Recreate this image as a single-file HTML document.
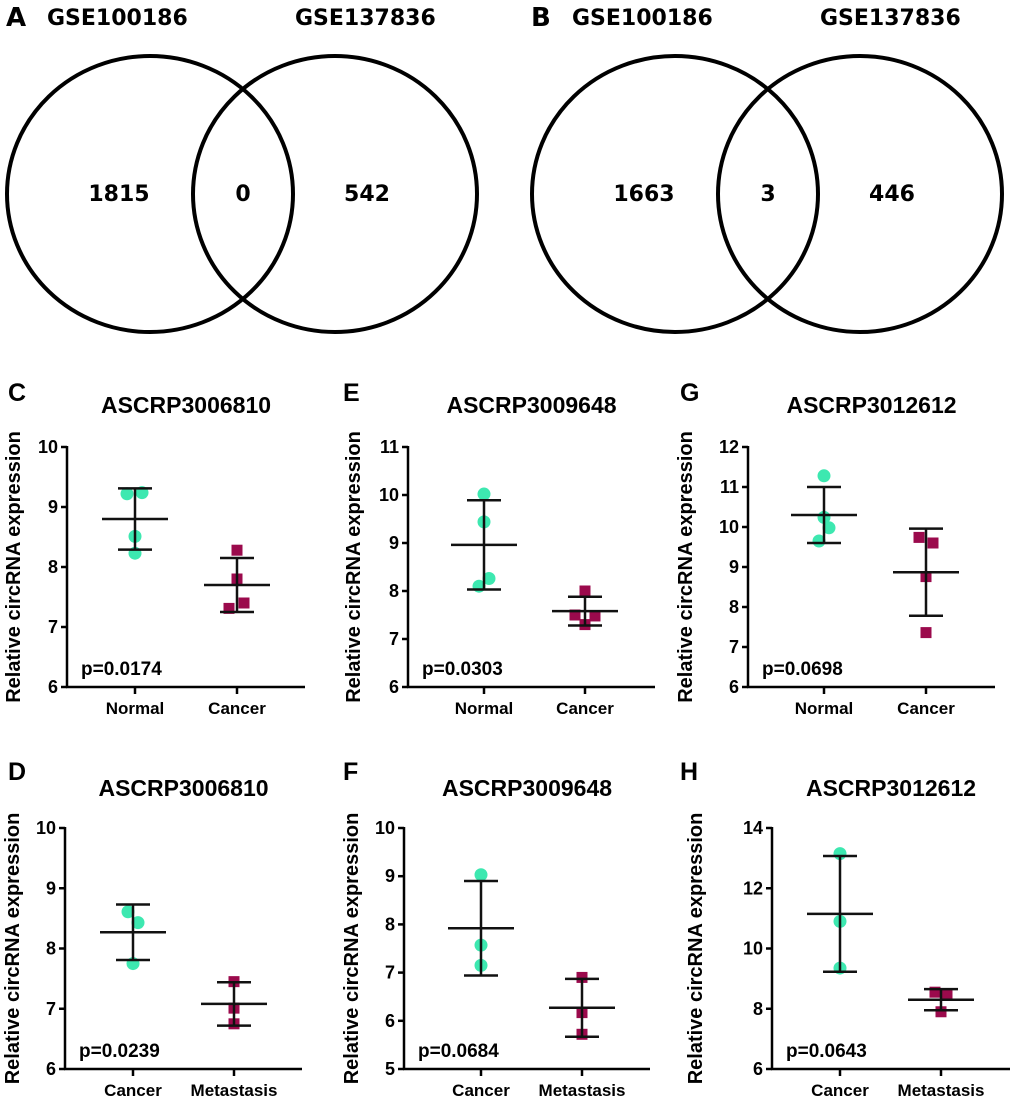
<!DOCTYPE html>
<html><head><meta charset="utf-8"><style>
body{margin:0;background:#fff}
svg{display:block;font-family:"Liberation Sans",Arial,sans-serif}
.v{font-family:"DejaVu Sans","Liberation Sans",sans-serif;font-weight:bold}
</style></head><body>
<svg id="fig" width="1020" height="1101" viewBox="0 0 1020 1101" xmlns="http://www.w3.org/2000/svg"></svg>
<script>
const NS="http://www.w3.org/2000/svg";
const svg=document.getElementById('fig');
function mk(tag,attrs,parent,text){const e=document.createElementNS(NS,tag);for(const k in attrs)e.setAttribute(k,attrs[k]);if(text!==undefined)e.textContent=text;(parent||svg).appendChild(e);return e;}

// Venn data
const vennLetters=["A","B"];
const vennLeft=[1815,1663];
const vennMid=[0,3];
const vennRight=[542,446];
const vennSetNames=["GSE100186","GSE137836"];

// Scatter panel data
const panelLetters=["C","E","G","D","F","H"];
const panelTitles=["ASCRP3006810","ASCRP3009648","ASCRP3012612","ASCRP3006810","ASCRP3009648","ASCRP3012612"];
const groupNames=[["Normal","Cancer"],["Normal","Cancer"],["Normal","Cancer"],["Cancer","Metastasis"],["Cancer","Metastasis"],["Cancer","Metastasis"]];
const pValues=["p=0.0174","p=0.0303","p=0.0698","p=0.0239","p=0.0684","p=0.0643"];
const yMin=[6,6,6,6,5,6];
const yMax=[10,11,12,10,10,14];
const yStep=[1,1,1,1,1,2];
const group1Values=[[9.22,9.24,8.51,8.23],[10.02,9.44,8.26,8.1],[11.28,10.24,9.98,9.65],[8.61,8.43,7.75],[9.03,7.57,7.15],[13.15,10.9,9.35]];
const group2Values=[[8.28,7.8,7.4,7.31],[8.0,7.5,7.48,7.3],[9.74,9.6,8.76,7.36],[7.45,7.01,6.75],[6.9,6.17,5.72],[8.55,8.45,7.9]];
const group1Mean=[8.8,8.96,10.3,8.27,7.92,11.15];
const group1Err=[0.51,0.93,0.7,0.46,0.98,1.92];
const group2Mean=[7.7,7.58,8.87,7.08,6.27,8.3];
const group2Err=[0.45,0.3,1.09,0.36,0.6,0.35];

// Venn diagrams
const vennOffsets=[0,525];
vennLetters.forEach((L,i)=>{
  const ox=vennOffsets[i];
  const g=mk('g',{},svg);
  
  
  const t=mk('text',{x:ox+6,y:26,'font-size':26,'font-weight':'bold',class:'v'},g,L);
  
  
  const n1=mk('text',{x:ox+47,y:25,'font-size':22,class:'v'},g,vennSetNames[0]);
  
  
  const n2=mk('text',{x:ox+295,y:25,'font-size':22,class:'v'},g,vennSetNames[1]);
  
  
  const c1=mk('ellipse',{cx:ox+150,cy:194,rx:143,ry:138,fill:'none',stroke:'#000','stroke-width':4},g);
  
  
  const c2=mk('ellipse',{cx:ox+335,cy:194,rx:142,ry:138,fill:'none',stroke:'#000','stroke-width':4},g);
  
  
  [[vennLeft[i],119],[vennMid[i],243],[vennRight[i],367]].forEach((p,j)=>{
    const tt=mk('text',{x:ox+p[1],y:201,'font-size':22,'text-anchor':'middle',class:'v'},g,String(p[0]));
    
    
  });
});

// Panel geometry
const geo=[
 {ax:67,g1:135,g2:237,end:305,top:447,bot:687,py:0,lo:47},
 {ax:408,g1:484,g2:585,end:655,top:447,bot:687,py:0,lo:48},
 {ax:748,g1:824,g2:926,end:995,top:447,bot:687,py:0,lo:56},
 {ax:65,g1:133,g2:234,end:302,top:828,bot:1069,py:1,lo:46},
 {ax:404,g1:481,g2:582,end:650,top:828,bot:1069,py:1,lo:46},
 {ax:772,g1:840,g2:941,end:1010,top:828,bot:1069,py:1,lo:70}
];
const jit4a=[-8,7,0,0], jit4b=[0,0,7,-8];
const jit=[[jit4a,jit4b],[[0,0,5,-5],[0,-10,10,0]],[[0,0,5,-5],[-7,7,0,0]],[[-5,5,0],[0,0,0]],[[0,0,0],[0,0,0]],[[0,0,0],[-6,6,0]]];

panelLetters.forEach((L,i)=>{
  const G=geo[i];
  const g=mk('g',{},svg);
  
  
  const y=v=>G.bot-(v-yMin[i])/(yMax[i]-yMin[i])*(G.bot-G.top);
  const letterX=[8,343,680,8,343,680][i];
  const topY=G.py?767:388;
  const pl=mk('text',{x:letterX,y:topY+13,'font-size':25,'font-weight':'bold'},g,L);
  
  
  const ti=mk('text',{x:(G.ax+G.end)/2,y:G.py?796:413,'font-size':23,'font-weight':'bold','text-anchor':'middle'},g,panelTitles[i]);
  
  
  const yc=(G.top+G.bot)/2;
  const yl=mk('text',{x:0,y:0,'font-size':20,'font-weight':'bold','text-anchor':'middle',transform:`translate(${G.ax-G.lo},${yc}) rotate(-90)`},g,'Relative circRNA expression');
  
  
  const axy=mk('line',{x1:G.ax,y1:G.top-1,x2:G.ax,y2:G.bot+1,stroke:'#000','stroke-width':2.5},g);
  
  
  const axx=mk('line',{x1:G.ax-1,y1:G.bot,x2:G.end,y2:G.bot,stroke:'#000','stroke-width':2.5},g);
  
  
  for(let v=yMin[i];v<=yMax[i]+1e-9;v+=yStep[i]){
    const tk=mk('line',{x1:G.ax-6,y1:y(v),x2:G.ax,y2:y(v),stroke:'#000','stroke-width':2.5},g);
    
    
    const tl=mk('text',{x:G.ax-9,y:y(v)+6,'font-size':18,'font-weight':'bold','text-anchor':'end'},g,String(v));
    
    
  }
  [G.g1,G.g2].forEach((gx,k)=>{
    const tk=mk('line',{x1:gx,y1:G.bot,x2:gx,y2:G.bot+7,stroke:'#000','stroke-width':2.5},g);
    
    
    const tl=mk('text',{x:gx,y:G.bot+27,'font-size':17,'font-weight':'bold','text-anchor':'middle'},g,groupNames[i][k]);
    
    
  });
  const pv=mk('text',{x:G.ax+14,y:G.bot-12,'font-size':19,'font-weight':'bold'},g,pValues[i]);
  
  
  const groups=[[G.g1,group1Values[i],group1Mean[i],group1Err[i],'#3de8b0','circle'],[G.g2,group2Values[i],group2Mean[i],group2Err[i],'#9b0a4c','square']];
  groups.forEach((gr,k)=>{
    const [gx,vals,m,e,col,shape]=gr;
    vals.forEach((v,j)=>{
      const dx=(jit[i][k][j]||0);
      let pt;
      if(shape==='circle') pt=mk('circle',{cx:gx+dx,cy:y(v),r:6.5,fill:col},g);
      else pt=mk('rect',{x:gx+dx-5.5,y:y(v)-5.5,width:11,height:11,fill:col},g);
      
      
    });
    const ev=mk('line',{x1:gx,y1:y(m+e),x2:gx,y2:y(m-e),stroke:'#111','stroke-width':2.5},g);
    
    
    [m+e,m-e].forEach(v=>{
      const cp=mk('line',{x1:gx-17,y1:y(v),x2:gx+17,y2:y(v),stroke:'#111','stroke-width':2.5},g);
      
      
    });
    const ml=mk('line',{x1:gx-33,y1:y(m),x2:gx+33,y2:y(m),stroke:'#111','stroke-width':2.5},g);
    
    
  });
});
</script>
</body></html>
